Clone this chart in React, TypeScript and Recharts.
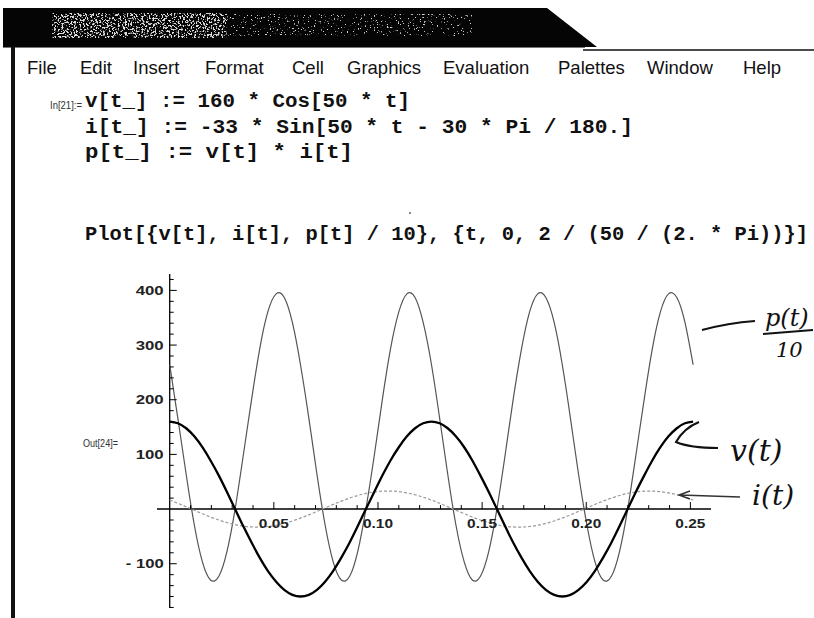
import React from "react";
import { LineChart, Line, XAxis, YAxis, ReferenceLine } from "recharts";

// t from 0 to 2 periods of v (4*Pi/50), sampled every Pi/800
const tValues = [
  0, 0.0039, 0.0079, 0.0118, 0.0157, 0.0196, 0.0236, 0.0275, 0.0314, 0.0353,
  0.0393, 0.0432, 0.0471, 0.0511, 0.055, 0.0589, 0.0628, 0.0668, 0.0707, 0.0746,
  0.0785, 0.0824, 0.0864, 0.0903, 0.0942, 0.0982, 0.1021, 0.106, 0.11, 0.1139,
  0.1178, 0.1217, 0.1257, 0.1296, 0.1335, 0.1374, 0.1414, 0.1453, 0.1492, 0.1532,
  0.1571, 0.161, 0.1649, 0.1689, 0.1728, 0.1767, 0.1806, 0.1846, 0.1885, 0.1924,
  0.1963, 0.2003, 0.2042, 0.2081, 0.2121, 0.216, 0.2199, 0.2238, 0.2278, 0.2317,
  0.2356, 0.2395, 0.2435, 0.2474, 0.2513,
];

const vValues = [
  160, 156.9, 147.8, 133, 113.1, 88.9, 61.2, 31.2, 0, -31.2,
  -61.2, -88.9, -113.1, -133, -147.8, -156.9, -160, -156.9, -147.8, -133,
  -113.1, -88.9, -61.2, -31.2, 0, 31.2, 61.2, 88.9, 113.1, 133,
  147.8, 156.9, 160, 156.9, 147.8, 133, 113.1, 88.9, 61.2, 31.2,
  0, -31.2, -61.2, -88.9, -113.1, -133, -147.8, -156.9, -160, -156.9,
  -147.8, -133, -113.1, -88.9, -61.2, -31.2, 0, 31.2, 61.2, 88.9,
  113.1, 133, 147.8, 156.9, 160,
];

const iValues = [
  16.5, 10.6, 4.3, -2.2, -8.5, -14.6, -20.1, -24.8, -28.6, -31.3,
  -32.7, -32.9, -31.9, -29.6, -26.2, -21.8, -16.5, -10.6, -4.3, 2.2,
  8.5, 14.6, 20.1, 24.8, 28.6, 31.3, 32.7, 32.9, 31.9, 29.6,
  26.2, 21.8, 16.5, 10.6, 4.3, -2.2, -8.5, -14.6, -20.1, -24.8,
  -28.6, -31.3, -32.7, -32.9, -31.9, -29.6, -26.2, -21.8, -16.5, -10.6,
  -4.3, 2.2, 8.5, 14.6, 20.1, 24.8, 28.6, 31.3, 32.7, 32.9,
  31.9, 29.6, 26.2, 21.8, 16.5,
];

// p[t]/10
const pValues = [
  264, 166.5, 63.7, -28.7, -96.6, -129.7, -123, -77.4, 0, 97.5,
  200.3, 292.7, 360.6, 393.7, 387, 341.4, 264, 166.5, 63.7, -28.7,
  -96.6, -129.7, -123, -77.4, 0, 97.5, 200.3, 292.7, 360.6, 393.7,
  387, 341.4, 264, 166.5, 63.7, -28.7, -96.6, -129.7, -123, -77.4,
  0, 97.5, 200.3, 292.7, 360.6, 393.7, 387, 341.4, 264, 166.5,
  63.7, -28.7, -96.6, -129.7, -123, -77.4, 0, 97.5, 200.3, 292.7,
  360.6, 393.7, 387, 341.4, 264,
];

const xTicks = [
  0.01, 0.02, 0.03, 0.04, 0.05, 0.06, 0.07, 0.08, 0.09, 0.1,
  0.11, 0.12, 0.13, 0.14, 0.15, 0.16, 0.17, 0.18, 0.19, 0.2,
  0.21, 0.22, 0.23, 0.24, 0.25,
];
const yTicks = [
  -180, -160, -140, -120, -100, -80, -60, -40, -20,
  20, 40, 60, 80, 100, 120, 140, 160, 180, 200, 220, 240, 260, 280,
  300, 320, 340, 360, 380, 400, 420,
];

const menuItems = ["File", "Edit", "Insert", "Format", "Cell", "Graphics", "Evaluation", "Palettes", "Window", "Help"];
const menuX = [27, 80, 133, 205, 292, 347, 443, 558, 647, 743];

const codeLines = [
  "v[t_] := 160 * Cos[50 * t]",
  "i[t_] := -33 * Sin[50 * t - 30 * Pi / 180.]",
  "p[t_] := v[t] * i[t]",
  "Plot[{v[t], i[t], p[t] / 10}, {t, 0, 2 / (50 / (2. * Pi))}]",
];
const codeY = [107, 133, 158, 240];
const codeLen = [325, 548, 268, 723];

const data = tValues.map((t, k) => ({ t, v: vValues[k], i: iValues[k], p: pValues[k] }));

const W = 814;
const H = 618;
const M = { top: 274, right: 103, bottom: 0, left: 147 };
const X_DOMAIN: [number, number] = [-0.0061, 0.2599];
const Y_DOMAIN: [number, number] = [-181, 430];
const plotLeft = M.left + 10;
const plotW = W - plotLeft - M.right;
const plotH = H - M.top - 10;
const zeroY = M.top + (Y_DOMAIN[1] / (Y_DOMAIN[1] - Y_DOMAIN[0])) * plotH;
const zeroX = plotLeft + (-X_DOMAIN[0] / (X_DOMAIN[1] - X_DOMAIN[0])) * plotW;

const tickFont = "'Liberation Sans', Arial, sans-serif";

function XTick(props: any) {
  const { x, payload } = props;
  const val = payload.value;
  const major = Math.round(val * 100) % 5 === 0;
  return (
    <g>
      <line x1={x} x2={x} y1={zeroY} y2={zeroY - (major ? 7 : 4)} stroke="#000" strokeWidth={1} />
      {major && (
        <text x={x} y={zeroY + 19} textAnchor="middle" fontFamily={tickFont} fontSize={12} fontWeight="bold"
          textLength={30} lengthAdjust="spacingAndGlyphs" fill="#222">
          {val.toFixed(2)}
        </text>
      )}
    </g>
  );
}

function YTick(props: any) {
  const { y, payload } = props;
  const val = payload.value;
  const major = val % 100 === 0;
  const label = val < 0 ? `- ${-val}` : String(val);
  return (
    <g>
      <line x1={zeroX} x2={zeroX + (major ? 7 : 4)} y1={y} y2={y} stroke="#000" strokeWidth={1} />
      {major && (
        <text x={zeroX - 6} y={y + 4.5} textAnchor="end" fontFamily={tickFont} fontSize={12} fontWeight="bold"
          textLength={val < 0 ? 38 : 28} lengthAdjust="spacingAndGlyphs" fill="#222">
          {label}
        </text>
      )}
    </g>
  );
}

function Decorations() {
  const hand = "'DejaVu Serif', serif";
  return (
    <svg width={W} height={H} style={{ position: "absolute", left: 0, top: 0, pointerEvents: "none" }}>
      <defs>
        <filter id="speckle" x="0" y="0" width="100%" height="100%">
          <feTurbulence type="fractalNoise" baseFrequency="0.55" numOctaves="2" seed="4" />
          <feColorMatrix type="matrix" values="0 0 0 0 0.72  0 0 0 0 0.72  0 0 0 0 0.72  0 0 0 12 -6.3" />
          <feComposite in2="SourceGraphic" operator="in" />
        </filter>
        <filter id="speckle2" x="0" y="0" width="100%" height="100%">
          <feTurbulence type="fractalNoise" baseFrequency="0.7" numOctaves="2" seed="9" />
          <feColorMatrix type="matrix" values="0 0 0 0 0.65  0 0 0 0 0.65  0 0 0 0 0.65  0 0 0 12 -7.8" />
          <feComposite in2="SourceGraphic" operator="in" />
        </filter>
      </defs>

      {/* title bar */}
      <polygon points="3,8 547,8 597,47 3,47" fill="#050505" />
      <rect x={52} y={13} width={175} height={25} fill="#fff" filter="url(#speckle)" />
      <rect x={227} y={14} width={245} height={22} fill="#fff" filter="url(#speckle2)" />
      <line x1={3} x2={585} y1={47.5} y2={47.5} stroke="#777" strokeWidth={1} />
      <line x1={583} x2={814} y1={50} y2={50} stroke="#111" strokeWidth={1.6} />
      <rect x={11} y={47} width={4} height={H - 47} fill="#111" />

      {/* menu */}
      {menuItems.map((m, k) => (
        <text key={m} x={menuX[k]} y={74} fontFamily={tickFont} fontSize={18.5} fill="#111">{m}</text>
      ))}

      {/* input cell */}
      <text x={50} y={109} fontFamily={tickFont} fontSize={11} textLength={32} lengthAdjust="spacingAndGlyphs" fill="#333">In[21]:=</text>
      {codeLines.map((c, k) => (
        <text key={k} x={85} y={codeY[k]} fontFamily="'Liberation Mono', 'Courier New', monospace" fontWeight="bold"
          fontSize={20} textLength={codeLen[k]} lengthAdjust="spacingAndGlyphs" fill="#111">{c}</text>
      ))}
      <circle cx={410} cy={213} r={0.9} fill="#555" />
      <text x={83} y={447} fontFamily={tickFont} fontSize={11} textLength={35} lengthAdjust="spacingAndGlyphs" fill="#333">Out[24]=</text>

      {/* handwritten notes */}
      <path d="M702 330 Q 728 323 755 321" fill="none" stroke="#111" strokeWidth={2} />
      <text x={765} y={326} fontFamily={hand} fontStyle="italic" fontSize={24} fill="#111">p(t)</text>
      <path d="M763 334 L 813 330" fill="none" stroke="#111" strokeWidth={2} />
      <text x={776} y={357} fontFamily={hand} fontStyle="italic" fontSize={21} fill="#111">10</text>

      <path d="M699 422 Q 684 428 676 442 Q 690 448 718 448" fill="none" stroke="#111" strokeWidth={2} />
      <text x={730} y={461} fontFamily={hand} fontStyle="italic" fontSize={30} fill="#111">v(t)</text>

      <path d="M740 497 L 680 495 M 690 491 L 679 495 L 690 499" fill="none" stroke="#333" strokeWidth={1.5} />
      <text x={752} y={505} fontFamily={hand} fontStyle="italic" fontSize={28} fill="#111">i(t)</text>
    </svg>
  );
}

export default function App() {
  return (
    <div style={{ position: "absolute", left: 0, top: 0, width: W, height: H, background: "#fff", overflow: "hidden" }}>
      <LineChart width={W} height={H} data={data} margin={M}>
        <XAxis type="number" dataKey="t" domain={X_DOMAIN} ticks={xTicks} interval={0} tick={<XTick />}
          tickLine={false} axisLine={false} height={10} allowDataOverflow />
        <YAxis type="number" domain={Y_DOMAIN} ticks={yTicks} interval={0} tick={<YTick />}
          tickLine={false} axisLine={false} width={10} allowDataOverflow />
        <ReferenceLine y={0} stroke="#000" strokeWidth={1.4} />
        <ReferenceLine x={0} stroke="#000" strokeWidth={1.3} />
        <Line type="natural" dataKey="p" stroke="#555" strokeWidth={1.2} dot={false} isAnimationActive={false} />
        <Line type="natural" dataKey="i" stroke="#9a9a9a" strokeWidth={1.2} strokeDasharray="3 2" dot={false} isAnimationActive={false} />
        <Line type="natural" dataKey="v" stroke="#000" strokeWidth={2.3} dot={false} isAnimationActive={false} />
      </LineChart>
      <Decorations />
    </div>
  );
}
